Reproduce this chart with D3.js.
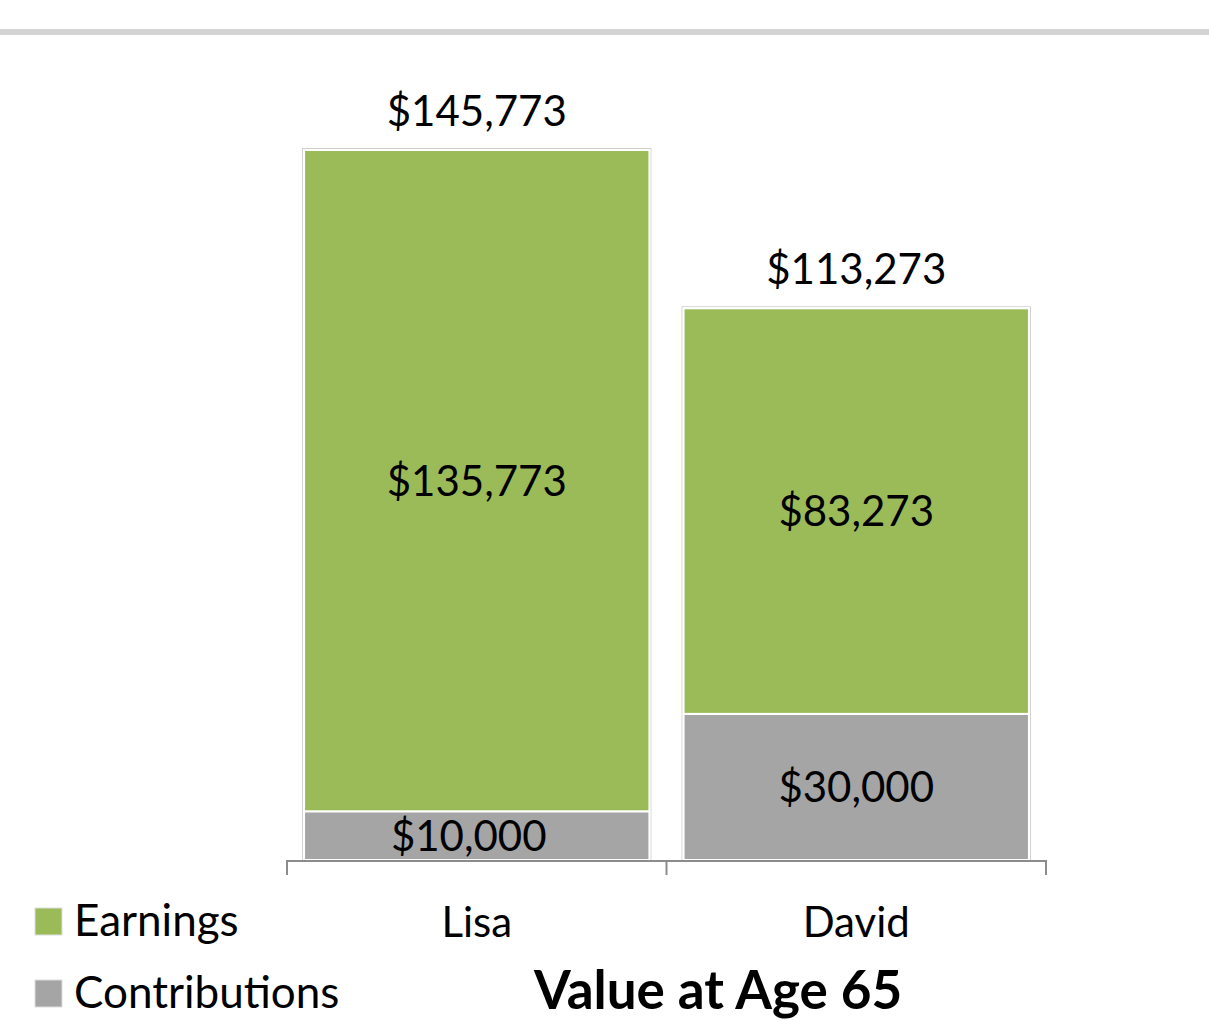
<!DOCTYPE html>
<html><head><meta charset="utf-8">
<script src="https://cdn.jsdelivr.net/npm/d3@7"></script>
<style>body{margin:0;background:#fff}svg{display:block}text{font-family:Lato,"Open Sans",sans-serif}</style>
</head><body>
<svg id="c" width="1209" height="1021"></svg>
<script>
const categories = ["Lisa", "David"];
const seriesNames = ["Contributions", "Earnings"];
const contributions = [10000, 30000];
const earnings = [135773, 83273];
const legendLabels = ["Earnings", "Contributions"];
const title = "Value at Age 65";
const colors = {Contributions: "#a5a5a5", Earnings: "#9bbb59"};

const svg = d3.select("#c");
svg.append("rect").attr("x",0).attr("y",29).attr("width",1209).attr("height",6).attr("fill","#d4d4d4");

const rows = categories.map((c,i)=>({cat:c, Contributions:contributions[i], Earnings:earnings[i]}));
const stack = d3.stack().keys(seriesNames)(rows);
const totals = rows.map(r=>r.Contributions+r.Earnings);

const x = d3.scaleBand().domain(categories).range([287,1046]).paddingInner(0.09).paddingOuter(0.045);
const y = d3.scaleLinear().domain([0, d3.max(totals)]).range([860,150]);
const fmt = v => "$" + d3.format(",")(v);
const FS = 42;

svg.append("g").selectAll("rect").data(rows).join("rect")
  .attr("x", d=>x(d.cat)-1.5).attr("y", (d,i)=>y(totals[i])-1.5)
  .attr("width", x.bandwidth()+3).attr("height",(d,i)=>y(0)-y(totals[i])+1.5)
  .attr("fill","none").attr("stroke","#cfcfcf").attr("stroke-width",1);

stack.forEach(s=>{
  const g = svg.append("g");
  g.selectAll("rect").data(s).join("rect")
    .attr("x", d=>x(d.data.cat)).attr("y", d=>y(d[1]))
    .attr("width", x.bandwidth()).attr("height", d=>y(d[0])-y(d[1]))
    .attr("fill", colors[s.key]).attr("stroke","#fff").attr("stroke-width",2);
  g.selectAll("text").data(s).join("text")
    .attr("x", d=>x(d.data.cat)+x.bandwidth()/2 + (s.key==="Contributions" && d.data.cat==="Lisa" ? -8 : 0))
    .attr("y", d=>(y(d[0])+y(d[1]))/2)
    .attr("dy","0.36em").attr("text-anchor","middle").attr("font-size",FS).attr("fill","#000")
    .text(d=>fmt(d[1]-d[0]));
});

svg.append("g").selectAll("text").data(rows).join("text")
  .attr("x", d=>x(d.cat)+x.bandwidth()/2).attr("y",(d,i)=>y(totals[i])-24)
  .attr("text-anchor","middle").attr("font-size",FS).attr("fill","#000")
  .text((d,i)=>fmt(totals[i]));

const ax = svg.append("g");
ax.append("line").attr("x1",287).attr("x2",1046).attr("y1",861).attr("y2",861).attr("stroke","#8c8c8c").attr("stroke-width",2);
const tickPos = [287, ...categories.map(c=>x(c)+x.bandwidth()+x.step()*x.paddingInner()/2)];
tickPos[tickPos.length-1] = 1046;
ax.selectAll("line.t").data(tickPos).join("line").attr("class","t")
  .attr("x1",d=>d).attr("x2",d=>d).attr("y1",860).attr("y2",875).attr("stroke","#8c8c8c").attr("stroke-width",2);
ax.selectAll("text").data(categories).join("text")
  .attr("x", d=>x(d)+x.bandwidth()/2).attr("y",937)
  .attr("text-anchor","middle").attr("font-size",FS).attr("fill","#000").text(d=>d);

svg.append("text").attr("x",718).attr("y",1009).attr("text-anchor","middle")
  .attr("font-size",53).attr("font-weight","bold").attr("fill","#000").text(title);

const leg = svg.append("g");
legendLabels.forEach((k,i)=>{
  const yy = 908 + i*72;
  leg.append("rect").attr("x",35).attr("y",yy).attr("width",27).attr("height",27)
    .attr("fill",colors[k]).attr("stroke","#ddd").attr("stroke-width",1);
  leg.append("text").attr("x",74).attr("y",yy+28).attr("font-size",44).attr("fill","#000").text(k);
});
</script>
</body></html>
